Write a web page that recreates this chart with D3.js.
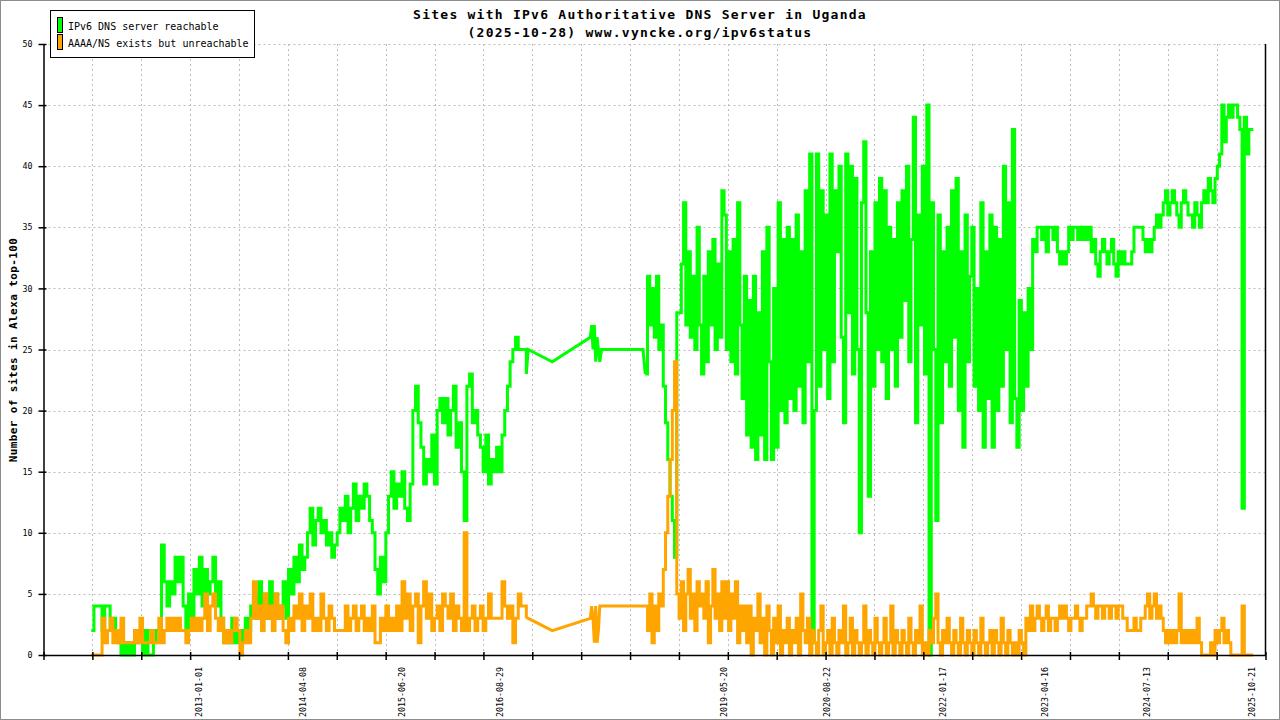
<!DOCTYPE html>
<html>
<head>
<meta charset="utf-8">
<script src="https://cdn.jsdelivr.net/npm/d3@7"></script>
<style>
  body { margin: 0; background: #fff; }
  svg { display: block; }
</style>
</head>
<body>
<div id="chart-area"></div>
<script>
// ---------------- data ----------------
// 2011-09 .. 2016-12, one sample every 12 days
const earlyStart = "2011-09-12";
const earlyStep = 12;
const earlyReachable = [
  2,4,4,4,2,4,4,2,3,2, 1,0,1,0,1,0,2,1,2,0, 2,0,0,1,2,2,9,6,4,6,
  5,8,6,8,4,2,5,3,7,5, 8,4,7,5,6,8,4,6,3,1, 2,1,3,1,2,1,2,3,2,4,
  5,3,6,4,5,3,6,4,5,3, 4,6,3,7,5,8,6,9,7,8, 10,12,9,11,12,10,11,9,10,8,
  9,10,12,11,13,10,12,14,11,13, 12,14,13,11,10,7,5,8,6,10, 13,15,12,14,13,15,12,11,14,20,
  22,19,17,14,16,15,18,14,20,21, 19,21,18,20,22,17,19,15,11,22, 23,19,20,18,17,15,18,14,16,15,
  17,15,18,20,22,24,25,26,25,25, 25,23
];
const earlyUnreachable = [
  0,0,0,0,3,1,2,3,1,2, 1,3,1,1,1,1,2,1,3,1, 1,1,2,1,1,3,1,2,3,2,
  3,2,3,2,2,1,2,3,2,3, 2,3,5,2,4,5,3,2,3,1, 2,1,2,3,2,0,1,2,1,3,
  6,3,4,2,5,3,4,2,5,3, 4,2,1,3,2,4,3,5,2,4, 3,5,2,3,2,5,3,2,4,3,
  2,2,2,2,4,2,3,4,2,3, 4,2,3,2,4,1,1,3,2,4, 2,3,2,4,2,6,3,5,2,4,
  5,1,4,6,3,5,2,3,4,2, 5,4,3,5,2,4,3,2,10,2, 3,4,2,3,4,2,3,5,3,3,
  3,3,6,4,3,4,1,3,5,4, 4,3
];

// sparse measurements 2017 - mid 2018
const gapDates = ["2017-01-03","2017-04-20","2017-10-06","2017-10-12","2017-10-18","2017-10-24",
  "2017-10-30","2017-11-05","2017-11-11","2017-11-17","2017-11-25","2018-05-28"];
const gapReachable = [25,24,26,27,25,27,24,26,25,24,25,25];
const gapUnreachable = [3,2,3,4,3,1,4,1,2,4,4,4];

// 2018-06 .. 2025-10, one sample every 10 days
const lateStart = "2018-06-07";
const lateStep = 10;
const lateReachable = [
  23,31,27,30,26,31,25,27,22,19,16,13,11,8,28,
  28,32,37,27,33,26,31,25,35,27, 23,31,24,33,27,34,25,32,26,38,
  36,25,33,24,34,23,37,27,21,31, 18,29,17,31,16,28,18,33,16,35,
  24,16,30,17,37,20,34,19,35,21, 34,20,36,22,33,19,38,24,41,1,
  20,41,22,38,25,36,21,41,24,38, 33,40,26,19,41,28,40,23,39,25,
  10,37,42,28,13,33,22,37,25,39, 24,38,21,35,25,34,22,37,26,38,
  29,40,24,34,44,19,36,27,40,23, 45,0,37,25,11,36,19,33,24,35,
  22,38,26,39,20,33,17,36,24,31, 35,22,30,20,37,17,33,21,36,17,
  35,20,34,22,40,25,37,19,43,21, 17,29,20,28,22,30,25,34,33,35,
  35,34,35,33,35,35,34,35,33,32, 33,32,33,35,34,35,35,34,35,34,
  35,34,35,33,34,32,31,33,34,33, 32,33,34,32,31,33,32,33,32,32,
  32,33,35,35,35,35,34,33,34,33, 34,35,36,35,36,37,38,36,37,38,
  37,36,35,37,38,37,36,36,35,37, 36,35,37,38,37,39,38,37,39,40,
  41,45,42,44,45,44,45,45,44,43, 12,44,41,43,43,43
];
const lateUnreachable = [
  4,2,5,1,4,2,5,4,7,10,13,16,20,24,5,
  3,6,2,5,7,3,5,2,6,4, 5,3,6,1,4,7,3,5,2,6,
  3,6,2,5,3,6,1,4,2,4, 1,4,0,3,2,5,1,3,0,4,
  2,0,3,1,4,0,2,1,3,0, 2,1,3,0,5,2,1,3,0,2,
  1,0,2,4,0,1,2,0,3,1, 0,2,1,4,0,1,3,0,2,1,
  0,1,4,0,2,1,0,3,1,0, 1,3,0,1,4,0,2,1,0,2,
  1,0,3,1,0,2,1,4,0,1, 0,2,1,3,5,1,0,2,1,3,
  1,0,2,1,0,3,1,0,2,1, 0,2,1,0,3,1,0,1,2,0,
  2,1,0,3,1,0,2,1,0,1, 0,2,1,0,3,2,4,2,3,4,
  3,2,3,4,2,3,3,2,3,4, 3,4,3,2,3,3,4,3,2,3,
  3,4,4,5,4,3,4,4,3,4, 4,3,4,4,3,4,4,3,3,2,
  2,2,3,2,2,3,3,4,5,3, 4,5,3,4,3,2,1,2,1,2,
  1,2,5,1,2,1,2,1,2,1, 3,1,0,0,0,0,1,0,2,1,
  2,3,1,2,1,0,0,0,0,0, 4,0,0,0,0,0
];

const seriesNames = ["IPv6 DNS server reachable", "AAAA/NS exists but unreachable"];
const seriesColors = ["#00ff00", "#ffa500"];
const yTicks = [0, 5, 10, 15, 20, 25, 30, 35, 40, 45, 50];
const xLabelDates = ["2013-01-01","2014-04-08","2015-06-20","2016-08-29","2019-05-20",
  "2020-08-22","2022-01-17","2023-04-16","2024-07-13","2025-10-21"];
const xDomain = ["2011-02-12", "2025-12-21"];
const titleLines = ["Sites with IPv6 Authoritative DNS Server in Uganda",
  "(2025-10-28) www.vyncke.org/ipv6status"];
const yTitle = "Number of sites in Alexa top-100";

// ---------------- build ----------------
const parse = d3.utcParse("%Y-%m-%d");
const DAY = 86400000;

function stepped(start, step, values) {
  const t0 = parse(start).getTime();
  return values.map((v, i) => ({ date: new Date(t0 + i * step * DAY), value: v }));
}
function listed(dates, values) {
  return values.map((v, i) => ({ date: parse(dates[i]), value: v }));
}

// per series: dense early part, sparse middle part, dense late part
const series = [
  [stepped(earlyStart, earlyStep, earlyReachable), listed(gapDates, gapReachable),
   stepped(lateStart, lateStep, lateReachable)],
  [stepped(earlyStart, earlyStep, earlyUnreachable), listed(gapDates, gapUnreachable),
   stepped(lateStart, lateStep, lateUnreachable)]
];

const W = 1280, H = 720;
const plotLeft = 43.5, plotRight = 1265.5, plotTop = 44, plotBottom = 655;
const mono = "'DejaVu Sans Mono', 'Liberation Mono', monospace";

const svg = d3.select("#chart-area").append("svg")
  .attr("width", W).attr("height", H);

svg.append("rect")
  .attr("x", 0.5).attr("y", 0.5).attr("width", W - 1).attr("height", H - 1)
  .attr("fill", "#fff").attr("stroke", "#8c8c8c");

const x = d3.scaleUtc()
  .domain(xDomain.map(parse))
  .range([plotLeft, plotRight]);
const y = d3.scaleLinear()
  .domain([0, 50])
  .range([plotBottom, plotTop]);

// evenly spaced minor ticks across the axis
const tStart = x.domain()[0].getTime(), tEnd = x.domain()[1].getTime();
const tickDates = d3.range(26).map(i => new Date(tStart + i * (tEnd - tStart) / 25));

// ----------------- grid -----------------
const grid = svg.append("g")
  .attr("stroke", "#bdbdbd").attr("stroke-width", 1).attr("stroke-dasharray", "2,3");
grid.selectAll("line.h")
  .data(yTicks.slice(1))
  .enter().append("line")
    .attr("x1", plotLeft).attr("x2", plotRight)
    .attr("y1", d => Math.round(y(d)) + 0.5).attr("y2", d => Math.round(y(d)) + 0.5);
grid.selectAll("line.v")
  .data(tickDates.slice(1, -1))
  .enter().append("line")
    .attr("x1", d => Math.round(x(d)) + 0.5).attr("x2", d => Math.round(x(d)) + 0.5)
    .attr("y1", plotTop).attr("y2", plotBottom);

// ----------------- lines -----------------
const stepLine = d3.line()
  .curve(d3.curveStepAfter)
  .x(d => x(d.date))
  .y(d => y(d.value));
const straightLine = d3.line()
  .x(d => x(d.date))
  .y(d => y(d.value));

series.forEach((parts, k) => {
  const [early, gap, late] = parts;
  const g = svg.append("g")
    .attr("fill", "none")
    .attr("stroke", seriesColors[k])
    .attr("stroke-width", 3);
  g.append("path").datum(early).attr("d", stepLine);
  g.append("path").datum([early[early.length - 1], ...gap, late[0]]).attr("d", straightLine);
  g.append("path").datum(late).attr("d", stepLine);
});

// ----------------- axes -----------------
const xAxisGroup = svg.append("g")
  .attr("transform", `translate(0, ${plotBottom})`)
  .call(d3.axisBottom(x).tickValues(tickDates).tickFormat("").tickSizeInner(5).tickSizeOuter(0));
xAxisGroup.select(".domain").attr("stroke", "#000").attr("stroke-width", 1.5);
xAxisGroup.selectAll(".tick line").attr("y1", -3).attr("stroke-width", 1.5);

const xLabelGroup = svg.append("g")
  .attr("transform", `translate(0, ${plotBottom})`)
  .call(d3.axisBottom(x).tickValues(xLabelDates.map(parse))
    .tickFormat(d3.utcFormat("%Y-%m-%d")).tickSize(0));
xLabelGroup.select(".domain").remove();
xLabelGroup.selectAll("text")
  .attr("font-family", mono)
  .attr("font-size", "8.3px")
  .attr("fill", "#000")
  .attr("transform", "rotate(-90)")
  .attr("x", -12)
  .attr("y", 0)
  .attr("dy", "0.35em")
  .attr("text-anchor", "end");

const yAxisGroup = svg.append("g")
  .attr("transform", `translate(${plotLeft}, 0)`)
  .call(d3.axisLeft(y).tickValues(yTicks).tickSizeInner(5).tickSizeOuter(0).tickPadding(6));
yAxisGroup.select(".domain").attr("stroke", "#000").attr("stroke-width", 1.5);
yAxisGroup.selectAll(".tick line").attr("x1", 3).attr("stroke-width", 1.5);
yAxisGroup.selectAll("text")
  .attr("font-family", mono)
  .attr("font-size", "8.3px")
  .attr("fill", "#000");

// right border of the plot
svg.append("line")
  .attr("x1", plotRight).attr("x2", plotRight).attr("y1", plotTop).attr("y2", plotBottom)
  .attr("stroke", "#000").attr("stroke-width", 1.5);

// ----------------- titles -----------------
svg.selectAll("text.title")
  .data(titleLines)
  .enter().append("text")
    .attr("x", 640)
    .attr("y", (d, i) => 19 + i * 18)
    .attr("text-anchor", "middle")
    .attr("font-family", mono)
    .attr("font-size", "13px")
    .attr("font-weight", "bold")
    .attr("letter-spacing", "1.25px")
    .text(d => d);

svg.append("text")
  .attr("transform", "translate(17, 350) rotate(-90)")
  .attr("text-anchor", "middle")
  .attr("font-family", mono)
  .attr("font-size", "11px")
  .attr("font-weight", "bold")
  .attr("letter-spacing", "0.4px")
  .text(yTitle);

// ----------------- legend -----------------
const legend = svg.append("g");
legend.append("rect")
  .attr("x", 50.5).attr("y", 10.5).attr("width", 204).attr("height", 47)
  .attr("fill", "#fff").attr("stroke", "#000");
seriesNames.forEach((name, k) => {
  legend.append("rect")
    .attr("x", 57.5).attr("y", 17.5 + k * 17).attr("width", 5).attr("height", 15)
    .attr("fill", seriesColors[k]).attr("stroke", "#000");
  legend.append("text")
    .attr("x", 68).attr("y", 29.5 + k * 17.5)
    .attr("font-family", mono)
    .attr("font-size", "10px")
    .attr("fill", "#000")
    .text(name);
});
</script>
</body>
</html>
